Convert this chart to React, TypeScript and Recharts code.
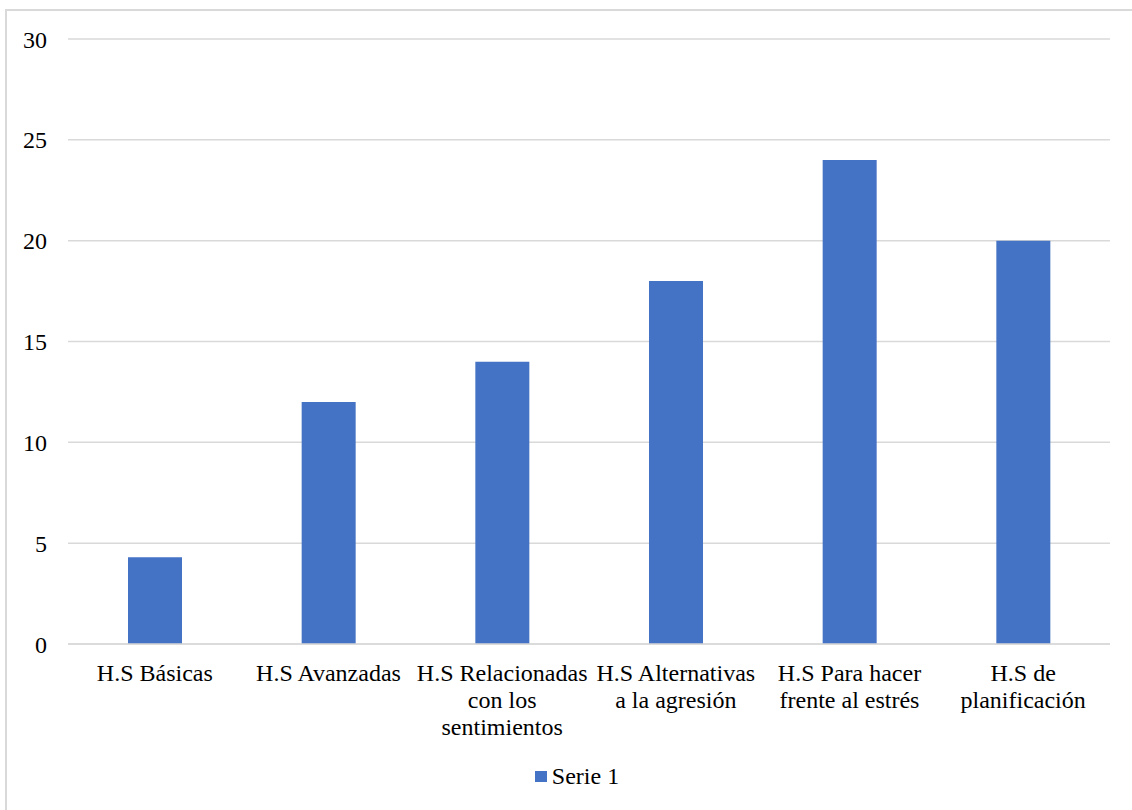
import React from "react";
import { BarChart, Bar, XAxis, YAxis, CartesianGrid, Legend } from "recharts";

const categories: string[] = [
  "H.S Básicas",
  "H.S Avanzadas",
  "H.S Relacionadas con los sentimientos",
  "H.S Alternativas a la agresión",
  "H.S Para hacer frente al estrés",
  "H.S de planificación",
];
const serie1: number[] = [4.3, 12, 14, 18, 24, 20];
const yTicks: number[] = [0, 5, 10, 15, 20, 25, 30];
const seriesName = "Serie 1";

const FONT = "'Liberation Serif', 'Times New Roman', serif";
const FS = 24;
const BLUE = "#4472C4";
const GRID = "#d9d9d9";

const data = categories.map((name, i) => ({ name, value: serie1[i] }));

let ctx: CanvasRenderingContext2D | null = null;
function measure(s: string) {
  if (!ctx) {
    ctx = document.createElement("canvas").getContext("2d");
    if (ctx) ctx.font = `${FS}px ${FONT}`;
  }
  return ctx ? ctx.measureText(s).width : s.length * 11;
}

function wrap(label: string, maxW: number) {
  const words = label.split(" ");
  const lines: string[] = [];
  let cur = "";
  for (const w of words) {
    const next = cur ? cur + " " + w : w;
    if (cur && measure(next) > maxW) {
      lines.push(cur);
      cur = w;
    } else {
      cur = next;
    }
  }
  if (cur) lines.push(cur);
  return lines;
}

function CatTick(props: any) {
  const { x, y, payload } = props;
  const lines = wrap(String(payload.value), 173);
  return (
    <text x={x} y={y} textAnchor="middle" fontFamily={FONT} fontSize={FS} fill="#000">
      {lines.map((l, i) => (
        <tspan key={i} x={x} dy={i === 0 ? 37 : 27}>
          {l}
        </tspan>
      ))}
    </text>
  );
}

function LegendBox() {
  return (
    <div style={{ display: "flex", justifyContent: "center", alignItems: "center", fontFamily: FONT, fontSize: FS, color: "#000", lineHeight: "28px", paddingLeft: 44 }}>
      <span style={{ width: 12, height: 11, background: BLUE, display: "inline-block", marginRight: 5 }} />
      <span>{seriesName}</span>
    </div>
  );
}

export default function App() {
  return (
    <div style={{ position: "absolute", left: 0, top: 0, width: 1132, height: 810, overflow: "hidden", background: "#fff" }}>
      <div
        style={{
          position: "absolute",
          left: 5,
          top: 9,
          width: 1140,
          height: 820,
          border: `2px solid ${GRID}`,
        }}
      />
      <div style={{ position: "absolute", left: 0, top: 0 }}>
        <BarChart
          width={1132}
          height={810}
          data={data}
          margin={{ top: 39, right: 22, left: 0, bottom: 20 }}
          barSize={54}
        >
          <CartesianGrid vertical={false} stroke={GRID} strokeWidth={1.5} />
          <XAxis
            dataKey="name"
            axisLine={{ stroke: GRID, strokeWidth: 1.5 }}
            tickLine={false}
            tickSize={0}
            tickMargin={0}
            interval={0}
            height={118}
            tick={<CatTick />}
          />
          <YAxis
            domain={[0, 30]}
            ticks={yTicks}
            width={68}
            axisLine={false}
            tickLine={false}
            tickSize={0}
            tickMargin={21}
            tick={{ fontFamily: FONT, fontSize: FS, fill: "#000" }}
          />
          <Legend verticalAlign="bottom" content={<LegendBox />} />
          <Bar dataKey="value" name={seriesName} fill={BLUE} isAnimationActive={false} />
        </BarChart>
      </div>
    </div>
  );
}
